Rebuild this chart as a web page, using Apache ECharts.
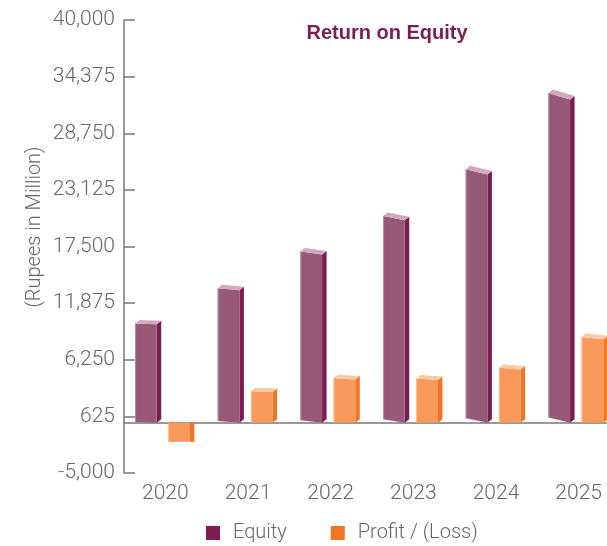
<!DOCTYPE html>
<html>
<head>
<meta charset="utf-8">
<script src="https://cdn.jsdelivr.net/npm/echarts@6/dist/echarts.min.js"></script>
<style>
  html, body { margin: 0; padding: 0; background: #fff; }
  #chart { width: 607px; height: 546px; }
</style>
</head>
<body>
<div id="chart"></div>
<script>
// data
const categories = ['2020', '2021', '2022', '2023', '2024', '2025']
const equity = [9770, 13150, 16700, 20100, 24650, 32100]
const profit = [-1900, 3050, 4300, 4230, 5270, 8280]

const FONT = 'Roboto'
const GREY = '#666'

// draws one pseudo-3d bar: front face, top face and right side
function bar3d(offset, widthRatio, colors, skewK) {
  return function (params, api) {
    const idx = api.value(0)
    const v = api.value(1)
    const base = api.coord([idx, 0])
    const top = api.coord([idx, v])
    const band = api.size([1, 0])[0]
    const x0 = base[0] + offset * band
    const w = widthRatio * band
    const y0 = base[1]
    const y1 = top[1]
    const s = v > 0 ? Math.max(0, (base[0] - 100) * skewK.top) : 0
    const sb = v > 0 ? Math.max(0, (base[0] - 100) * skewK.bottom) : 0
    const dx = 4.5
    const dy = v > 0 ? 3.5 : 0
    const children = [
      { // side
        type: 'polygon',
        shape: { points: [[x0 + w, y1], [x0 + w + dx, y1 - dy], [x0 + w + dx, y0 - dy], [x0 + w, y0]] },
        style: { fill: colors.side }
      },
      { // front
        type: 'polygon',
        shape: { points: [[x0, y1 - s], [x0 + w, y1], [x0 + w, y0], [x0, y0 - sb]] },
        style: { fill: colors.front }
      },
      { // left highlight
        type: 'line',
        shape: { x1: x0 + 0.5, y1: y1 - s, x2: x0 + 0.5, y2: y0 - sb },
        style: { stroke: colors.edge, lineWidth: 1 }
      }
    ]
    if (v > 0) {
      children.push({ // top
        type: 'polygon',
        shape: { points: [[x0, y1 - s], [x0 + w, y1], [x0 + w + dx, y1 - dy], [x0 + dx, y1 - s - dy]] },
        style: { fill: colors.top }
      })
    }
    return { type: 'group', children: children }
  }
}

const chart = echarts.init(document.getElementById('chart'))
const option = {
  animation: false,
  title: {
    text: 'Return on Equity',
    left: 382,
    top: 18,
    textAlign: 'center',
    textStyle: { fontFamily: 'Liberation Sans', fontSize: 20, fontWeight: 'bold', color: '#7d1b55' }
  },
  grid: { left: 124, right: -13, top: 20, bottom: 73, outerBoundsMode: 'none' },
  legend: {
    left: 206,
    top: 523,
    padding: 0,
    itemWidth: 14,
    itemHeight: 14,
    itemGap: 44,
    icon: 'rect',
    textStyle: { fontFamily: FONT, fontSize: 20, fontWeight: 300, color: GREY, padding: [0, 0, 0, 8] },
    data: ['Equity', 'Profit / (Loss)']
  },
  xAxis: {
    type: 'category',
    data: categories,
    axisLine: { lineStyle: { color: '#777', width: 1.5 } },
    axisTick: { inside: true, length: 10, lineStyle: { color: '#777', width: 1.5 } },
    axisLabel: { margin: 10, fontFamily: FONT, fontSize: 21, fontWeight: 300, color: GREY }
  },
  yAxis: {
    type: 'value',
    min: -5000,
    max: 40000,
    interval: 5625,
    splitLine: { show: false },
    axisLine: { show: true, lineStyle: { color: '#777', width: 1.5 } },
    axisTick: { show: true, inside: true, length: 11, lineStyle: { color: '#777', width: 1.5 } },
    axisLabel: {
      margin: 9,
      fontFamily: FONT,
      fontSize: 21,
      fontWeight: 300,
      color: GREY,
      formatter: (val) => val.toLocaleString('en-US')
    }
  },
  graphic: [{
    type: 'text',
    x: 35,
    y: 227,
    rotation: Math.PI / 2,
    style: {
      text: '(Rupees in Million)',
      fontFamily: FONT,
      fontSize: 20,
      fontWeight: 300,
      fill: GREY,
      textAlign: 'center',
      textVerticalAlign: 'middle'
    }
  }],
  series: [
    {
      name: 'Equity',
      type: 'custom',
      clip: false,
      itemStyle: { color: '#7d1b55' },
      data: equity.map((v, i) => [i, v]),
      renderItem: bar3d(-0.366, 0.262,
        { front: '#975a76', side: '#7d1b55', top: '#d2a8bd', edge: '#b98aa0' },
        { top: 0.0135, bottom: 0.011 })
    },
    {
      name: 'Profit / (Loss)',
      type: 'custom',
      clip: false,
      itemStyle: { color: '#f47321' },
      data: profit.map((v, i) => [i, v]),
      renderItem: bar3d(0.036, 0.262,
        { front: '#f7995a', side: '#f47521', top: '#fccaa5', edge: '#fbb687' },
        { top: 0.005, bottom: 0 })
    }
  ]
}
chart.setOption(option)
</script>
</body>
</html>
